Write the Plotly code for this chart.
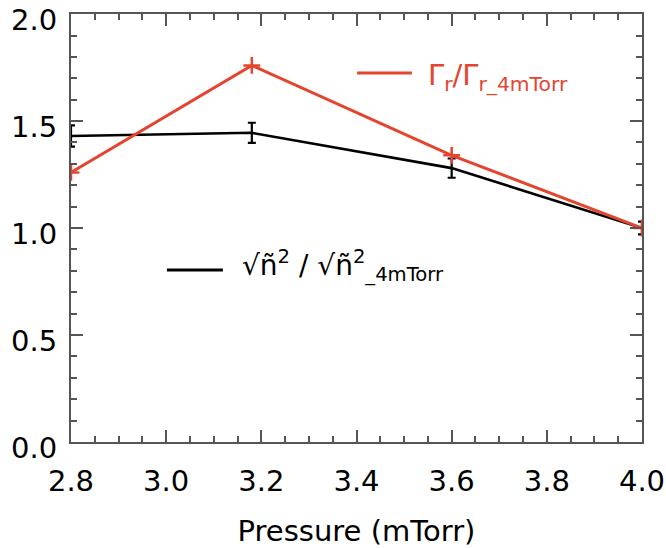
import plotly.graph_objects as go

# Data
pressure = [2.8, 3.18, 3.6, 4.0]
gamma_ratio = [1.26, 1.76, 1.34, 1.00]
n_ratio = [1.43, 1.445, 1.28, 1.00]
n_err = [0.05, 0.047, 0.045, 0.03]

x_ticks = [2.8, 3.0, 3.2, 3.4, 3.6, 3.8, 4.0]
y_ticks = [0.0, 0.5, 1.0, 1.5, 2.0]

RED = "#e4452f"
FONT = "DejaVu Sans"

fig = go.Figure()
fig.add_trace(go.Scatter(
    x=pressure, y=n_ratio, mode="lines",
    line=dict(color="black", width=2.6),
    error_y=dict(type="data", array=n_err, color="black", thickness=2.2, width=4),
    showlegend=False,
))
fig.add_trace(go.Scatter(
    x=pressure, y=gamma_ratio, mode="lines+markers",
    line=dict(color=RED, width=3),
    marker=dict(symbol="cross-thin", size=12, line=dict(color=RED, width=2.5)),
    showlegend=False,
))

# Legend-like labels drawn in the plot
fig.add_shape(type="line", xref="paper", yref="paper",
              x0=0.501, x1=0.597, y0=0.862, y1=0.862,
              line=dict(color=RED, width=3))
fig.add_annotation(xref="paper", yref="paper", x=0.622, y=0.852,
                   xanchor="left", yanchor="middle", showarrow=False,
                   text="Γ<sub>r</sub>/Γ<sub>r_4mTorr</sub>",
                   font=dict(family=FONT, size=29, color=RED))
fig.add_shape(type="line", xref="paper", yref="paper",
              x0=0.168, x1=0.266, y0=0.402, y1=0.402,
              line=dict(color="black", width=3))
fig.add_annotation(xref="paper", yref="paper", x=0.296, y=0.412,
                   xanchor="left", yanchor="middle", showarrow=False,
                   text="√ñ<sup>2</sup> / √ñ<sup>2</sup><sub>_4mTorr</sub>",
                   font=dict(family=FONT, size=28, color="black"))

axis_common = dict(
    showgrid=False, zeroline=False, showline=True, linecolor="#555555", linewidth=2,
    mirror="allticks", ticks="inside", ticklen=12, tickwidth=1.6, tickcolor="#555555",
    tickfont=dict(family=FONT, size=29, color="black"), automargin=False,
    ticklabeloverflow="allow",
)
fig.update_xaxes(range=[2.8, 4.0], tickvals=x_ticks,
                 ticktext=[f"{v:.1f}" for v in x_ticks],
                 title=dict(text="Pressure (mTorr)", font=dict(family=FONT, size=29, color="black"), standoff=24),
                 ticklabelstandoff=12,
                 minor=dict(ticks="inside", ticklen=6, dtick=0.05, tickcolor="#555555", tickwidth=1.5),
                 **axis_common)
fig.update_yaxes(range=[-0.0005, 2.0005], tickvals=y_ticks,
                 ticktext=[f"{v:.1f}" for v in y_ticks],
                 ticklabelstandoff=6, ticklabelshift=6,
                 minor=dict(ticks="inside", ticklen=6, dtick=0.1, tickcolor="#555555", tickwidth=1.5),
                 **axis_common)

fig.update_layout(
    width=666, height=548,
    margin=dict(l=71, r=24, t=14, b=106),
    plot_bgcolor="white", paper_bgcolor="white",
)

fig.write_html("out.html", config={"displayModeBar": False},
               post_script="document.body.style.margin='0px';")
